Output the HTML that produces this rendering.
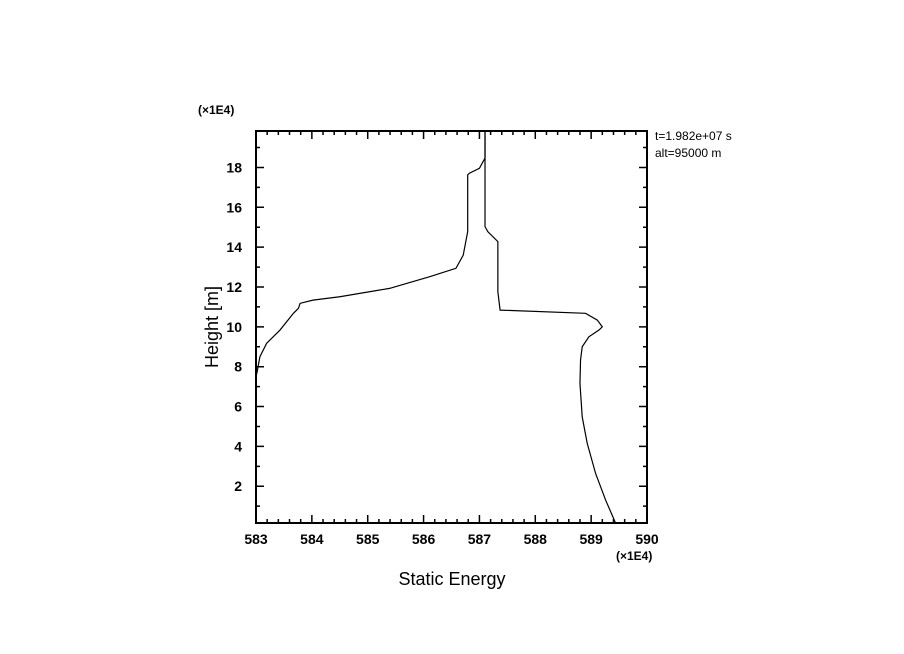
<!DOCTYPE html>
<html><head><meta charset="utf-8"><style>
body{margin:0;background:#fff}
svg{display:block}
text{font-family:"Liberation Sans",sans-serif;fill:#000}
.tl{font-size:14px;font-weight:bold}
</style></head><body>
<svg id="chart" width="904" height="654" viewBox="0 0 904 654">
<g id="axes"></g>
<g id="lines"></g>
<text x="198" y="114" font-size="12" font-weight="bold">(×1E4)</text>
<text x="616" y="560" font-size="12" font-weight="bold">(×1E4)</text>
<text x="655" y="140" font-size="12">t=1.982e+07 s</text>
<text x="655" y="157" font-size="12">alt=95000 m</text>
<text x="452" y="585" font-size="18" text-anchor="middle">Static Energy</text>
<text transform="translate(218,327) rotate(-90)" font-size="18" text-anchor="middle">Height [m]</text>
</svg>
<script>
const xTicks=[583,584,585,586,587,588,589,590];
const yTicks=[2,4,6,8,10,12,14,16,18];
const seriesA=[[587.1,19.83],[587.1,18.47],[587.0,17.96],[586.82,17.71],[586.79,17.63],[586.79,14.78],[586.71,13.6],[586.58,12.94],[586.11,12.52],[585.39,11.93],[584.5,11.51],[584.02,11.34],[583.79,11.18],[583.76,10.93],[583.67,10.68],[583.43,9.84],[583.19,9.17],[583.07,8.5],[583.02,7.74],[583.0,7.5]];
const seriesB=[[587.1,19.83],[587.1,15.03],[587.15,14.78],[587.33,14.28],[587.33,11.76],[587.37,10.84],[588.9,10.68],[589.11,10.34],[589.2,10.0],[589.14,9.84],[588.96,9.5],[588.84,9.0],[588.81,8.33],[588.8,7.16],[588.84,5.48],[588.93,4.15],[589.08,2.64],[589.26,1.3],[589.43,0.2]];
const X0=583,X1=590,Y0=0.155,Y1=19.83;
const L=256,R=647,T=131,B=523;
const sx=v=>L+(v-X0)/(X1-X0)*(R-L);
const sy=v=>B-(v-Y0)/(Y1-Y0)*(B-T);
const NS="http://www.w3.org/2000/svg";
function mk(t,a,p){const e=document.createElementNS(NS,t);for(const k in a)e.setAttribute(k,a[k]);p.appendChild(e);return e;}
const ax=document.getElementById('axes');
const fr=mk('rect',{x:L,y:T,width:R-L,height:B-T,fill:'none',stroke:'#000','stroke-width':2},ax);


let d='';
for(let v=X0;v<=X1+1e-9;v+=0.2){const x=sx(v),maj=Math.abs(v-Math.round(v))<1e-6,len=maj?8:4;d+=`M${x} ${B}v${-len}M${x} ${T}v${len}`;}
for(let v=1;v<=19;v++){const y=sy(v),len=v%2==0?8:4;d+=`M${L} ${y}h${len}M${R} ${y}h${-len}`;}
const tk=mk('path',{d:d,stroke:'#000','stroke-width':1.5,fill:'none'},ax);


xTicks.forEach(v=>{const t=mk('text',{x:sx(v),y:B+21,'text-anchor':'middle',class:'tl'},ax);t.textContent=v;

});
yTicks.forEach(v=>{const t=mk('text',{x:L-14,y:sy(v)+5,'text-anchor':'end',class:'tl'},ax);t.textContent=v;

});
const lg=document.getElementById('lines');
[[seriesA,'profile-line-a'],[seriesB,'profile-line-b']].forEach(([s,n])=>{
const p=mk('polyline',{points:s.map(q=>sx(q[0])+','+sy(q[1])).join(' '),fill:'none',stroke:'#000','stroke-width':1.2},lg);

});
</script>
</body></html>
